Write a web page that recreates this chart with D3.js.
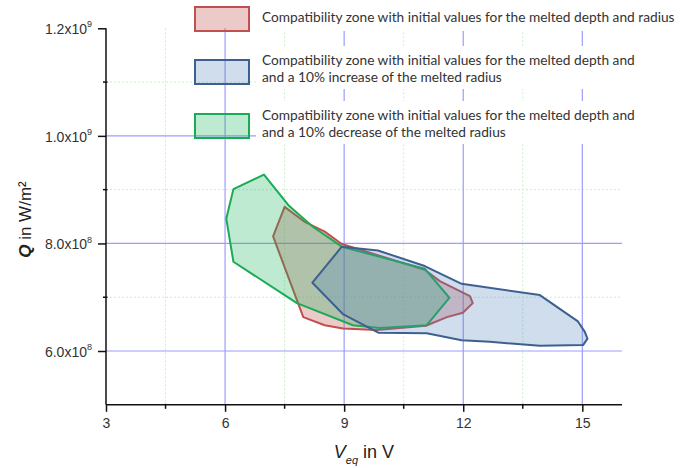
<!DOCTYPE html>
<html>
<head>
<meta charset="utf-8">
<script src="https://cdn.jsdelivr.net/npm/d3@7"></script>
<style>
  html, body { margin: 0; padding: 0; background: #fff; }
  svg { display: block; }
</style>
</head>
<body>
<svg id="chart" width="690" height="468"></svg>
<script>
// ---------- data ----------
const xTicks = [3, 6, 9, 12, 15];
const yTicks = [6e8, 8e8, 1e9, 1.2e9];
const yTickMantissa = ["6.0", "8.0", "1.0", "1.2"];
const yTickExponent = ["8", "8", "9", "9"];
const xMinor = [4.5, 7.5, 10.5, 13.5];
const yMinor = [7e8, 9e8, 1.1e9];

const seriesNames = [
  ["Compatibility zone with initial values for the melted depth and radius"],
  ["Compatibility zone with initial values for the melted depth and", "and a 10% increase of the melted radius"],
  ["Compatibility zone with initial values for the melted depth and", "and a 10% decrease of the melted radius"]
];

// initial radius zone (red)
const redV = [7.50, 8.01, 8.51, 8.94, 11.03, 11.41, 12.17, 12.24, 11.99, 11.59, 11.06, 9.82, 8.97, 8.51, 7.97, 7.21];
const redQ = [8.68e8, 8.40e8, 8.22e8, 7.99e8, 7.51e8, 7.30e8, 7.02e8, 6.89e8, 6.71e8, 6.63e8, 6.47e8, 6.39e8, 6.42e8, 6.48e8, 6.63e8, 8.13e8];

// +10% radius zone (blue)
const blueV = [8.94, 9.85, 11.03, 11.96, 13.93, 14.89, 15.06, 15.13, 15.02, 13.93, 12.67, 11.96, 11.08, 9.86, 8.98, 8.20];
const blueQ = [7.94e8, 7.87e8, 7.58e8, 7.25e8, 7.04e8, 6.55e8, 6.36e8, 6.23e8, 6.11e8, 6.10e8, 6.17e8, 6.20e8, 6.33e8, 6.34e8, 6.68e8, 7.27e8];

// -10% radius zone (green)
const greenV = [6.98, 6.21, 6.03, 6.21, 7.81, 9.22, 9.90, 11.08, 11.65, 11.03, 8.94, 8.21, 7.61];
const greenQ = [9.28e8, 9.01e8, 8.46e8, 7.66e8, 6.89e8, 6.48e8, 6.43e8, 6.48e8, 6.99e8, 7.53e8, 7.94e8, 8.31e8, 8.70e8];

// ---------- layout ----------
const svg = d3.select("#chart");
const x = d3.scaleLinear().domain([3, 16]).range([106, 622]);
const y = d3.scaleLinear().domain([5e8, 1.2e9]).range([404.8, 28.3]);

const styles = [
  { stroke: "#c0504d", fill: "rgba(192,80,77,0.30)" },
  { stroke: "#3d6090", fill: "rgba(79,129,189,0.27)" },
  { stroke: "#1aab55", fill: "rgba(20,180,90,0.28)" }
];

// ---------- grid ----------
const grid = svg.append("g");
grid.selectAll(".mx").data(xMinor).join("line")
  .attr("x1", d => x(d)).attr("x2", d => x(d))
  .attr("y1", y(1.2e9)).attr("y2", y(5e8))
  .attr("stroke", "#c9f0c9").attr("stroke-width", 1).attr("stroke-dasharray", "2,2");
grid.selectAll(".my").data(yMinor).join("line")
  .attr("x1", x(3)).attr("x2", x(16))
  .attr("y1", d => y(d)).attr("y2", d => y(d))
  .attr("stroke", "#c9f0c9").attr("stroke-width", 1).attr("stroke-dasharray", "2,2");
grid.selectAll(".gx").data(xTicks.filter(d => d > 3)).join("line")
  .attr("x1", d => x(d)).attr("x2", d => x(d))
  .attr("y1", y(1.2e9)).attr("y2", y(5e8))
  .attr("stroke", "#9c9cff").attr("stroke-width", 1.2);
grid.selectAll(".gy").data(yTicks.filter(d => d < 1.2e9)).join("line")
  .attr("x1", x(3)).attr("x2", x(16))
  .attr("y1", d => y(d)).attr("y2", d => y(d))
  .attr("stroke", "#9c9cff").attr("stroke-width", 1.2);

// ---------- polygons ----------
const line = d3.line().x(d => x(d[0])).y(d => y(d[1]));
const zones = [
  d3.zip(redV, redQ),
  d3.zip(blueV, blueQ),
  d3.zip(greenV, greenQ)
];
const drawOrder = [0, 2, 1];
drawOrder.forEach(i => {
  svg.append("path")
    .attr("d", line(zones[i]) + "Z")
    .attr("fill", styles[i].fill)
    .attr("stroke", styles[i].stroke)
    .attr("stroke-width", 2)
    .attr("stroke-linejoin", "round");
});

// ---------- axes ----------
const fontAxis = "'Liberation Sans', Arial, sans-serif";
const xAxis = svg.append("g").attr("transform", `translate(0,${y(5e8)})`)
  .call(d3.axisBottom(x).tickValues(xTicks).tickSize(7).tickSizeOuter(0).tickPadding(6).tickFormat(d3.format("d")));
const yAxis = svg.append("g").attr("transform", `translate(${x(3)},0)`)
  .call(d3.axisLeft(y).tickValues(yTicks).tickSize(8).tickSizeOuter(0).tickPadding(5).tickFormat(""));
[xAxis, yAxis].forEach(g => {
  g.select(".domain").attr("stroke", "#111").attr("stroke-width", 1.5);
  g.selectAll(".tick line").attr("stroke", "#111").attr("stroke-width", 1.5);
  g.selectAll("text").attr("font-family", fontAxis).attr("font-size", 14).attr("fill", "#333");
});
xAxis.select(".domain").attr("d", `M${x(3)},0H${x(16)}`);
yAxis.select(".domain").attr("d", `M0,${y(5e8)}V${y(1.2e9)}`);

// y tick labels with superscript exponent
yAxis.selectAll(".tick").each(function(d, i) {
  const t = d3.select(this).select("text")
    .attr("x", -12).attr("dy", "0.38em").attr("text-anchor", "end");
  t.text(null);
  t.append("tspan").text(yTickMantissa[i] + "x10");
  t.append("tspan").attr("font-size", 9).attr("dy", "-0.75em").text(yTickExponent[i]);
});
// shift labels so the exponent sits just left of tick
yAxis.selectAll(".tick text").attr("x", -14);

// minor ticks
svg.append("g").selectAll("line").data(xMinor).join("line")
  .attr("x1", d => x(d)).attr("x2", d => x(d))
  .attr("y1", y(5e8) - 1).attr("y2", y(5e8) + 4)
  .attr("stroke", "#111").attr("stroke-width", 1.5);
svg.append("g").selectAll("line").data(yMinor).join("line")
  .attr("x1", x(3) - 3).attr("x2", x(3) + 1.5)
  .attr("y1", d => y(d)).attr("y2", d => y(d))
  .attr("stroke", "#111").attr("stroke-width", 1.5);

// axis titles
const xt = svg.append("text")
  .attr("x", (x(3) + x(16)) / 2).attr("y", 458)
  .attr("text-anchor", "middle")
  .attr("font-family", fontAxis).attr("font-size", 18).attr("fill", "#222");
xt.append("tspan").attr("font-style", "italic").text("V");
xt.append("tspan").attr("font-style", "italic").attr("font-size", 11).attr("dy", 6).text("eq");
xt.append("tspan").attr("dy", -6).text(" in V");

const yt = svg.append("text")
  .attr("transform", `translate(31,${(y(5e8) + y(1.2e9)) / 2 + 3}) rotate(-90)`)
  .attr("text-anchor", "middle")
  .attr("font-family", fontAxis).attr("font-size", 17).attr("fill", "#222");
yt.append("tspan").attr("font-style", "italic").attr("font-weight", "bold").text("Q");
yt.append("tspan").text(" in W/m²");

// ---------- legend ----------
const legendRows = [
  { boxY: 7, bgY: 2, bgH: 29, textY: [22] },
  { boxY: 60, bgY: 46, bgH: 43, textY: [65, 82] },
  { boxY: 114, bgY: 101, bgH: 43, textY: [120, 137] }
];
const legendOrder = [0, 1, 2];
const lg = svg.append("g");
legendOrder.forEach((si, r) => {
  const row = legendRows[r];
  lg.append("rect").attr("x", 256).attr("y", row.bgY).attr("width", 420).attr("height", row.bgH).attr("fill", "#fff");
  lg.append("rect").attr("x", 195).attr("y", row.boxY).attr("width", 54).attr("height", 24)
    .attr("fill", styles[si].fill).attr("stroke", styles[si].stroke).attr("stroke-width", 2);
  seriesNames[si].forEach((s, k) => {
    lg.append("text").attr("class", "lgtext").attr("x", 262).attr("y", row.textY[k])
      .attr("font-family", "Lato, 'Open Sans', sans-serif").attr("font-size", 12).attr("fill", "#333").text(s);
  });
});
// fit legend font size to the reference width
const probe = lg.selectAll(".lgtext").filter((d, i) => i === 1).node();
const w = probe.getComputedTextLength();
const fs = 12 * 373 / w;
lg.selectAll(".lgtext").attr("font-size", fs.toFixed(2));
</script>
</body>
</html>
